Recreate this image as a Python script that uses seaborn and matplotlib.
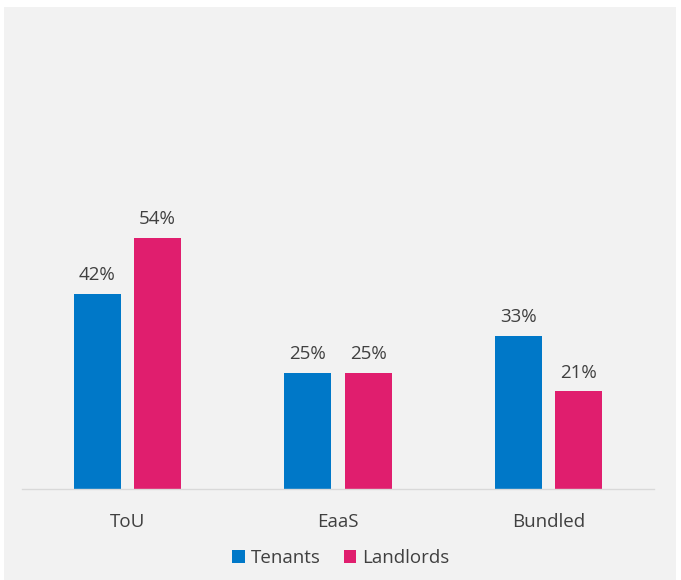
import matplotlib
matplotlib.use("Agg")
from matplotlib import pyplot as plt
from matplotlib.patches import Rectangle
import pandas as pd
import seaborn as sns

# data
categories = ["ToU", "EaaS", "Bundled"]
tenants = [42, 25, 33]
landlords = [54, 25, 21]
groups = ["Tenants", "Landlords"]

df = pd.DataFrame({
    "cat": categories * 2,
    "grp": [groups[0]] * 3 + [groups[1]] * 3,
    "val": tenants + landlords,
})

sns.set_theme(style="white")
plt.rcParams['font.family'] = ['Open Sans', 'DejaVu Sans']
txt = "#404040"
bg = "#F2F2F2"

fig = plt.figure(figsize=(6.81, 5.80), dpi=100)
fig.patch.set_facecolor("white")
# grey panel behind the chart
fig.patches.append(Rectangle((4 / 681, 0), 672 / 681, 573 / 580, transform=fig.transFigure,
                             facecolor=bg, edgecolor="none", zorder=-10))

ax = fig.add_axes([22 / 681, 91 / 580, 632 / 681, 279 / 580])
ax.set_facecolor("none")

sns.barplot(data=df, x="cat", y="val", hue="grp", order=categories, hue_order=groups,
            palette=["#0078C8", "#E01E6E"], width=0.57, gap=0.217, saturation=1,
            linewidth=0, ax=ax, legend=True)

for c in ax.containers:
    ax.bar_label(c, labels=[f"{int(v)}%" for v in c.datavalues], padding=7,
                 fontsize=13.5, color=txt, clip_on=False)

ax.set_xlim(-0.5, 2.5)
ax.set_ylim(0, 60)
ax.set(xlabel="", ylabel="")
ax.set_yticks([])
for s in ["top", "right", "left"]:
    ax.spines[s].set_visible(False)
ax.spines["bottom"].set_color("#D9D9D9")
ax.spines["bottom"].set_linewidth(1)
ax.tick_params(axis="x", length=0, pad=17, labelsize=13.5, labelcolor=txt)

leg = ax.legend(loc="center", bbox_to_anchor=(341 / 681, 22 / 580), bbox_transform=fig.transFigure,
                ncol=2, frameon=False, fontsize=13.5, handlelength=0.65, handleheight=0.65,
                handletextpad=0.35, columnspacing=1.2, borderaxespad=0)
for t in leg.get_texts():
    t.set_color(txt)

fig.savefig("out.png", dpi=100, facecolor=fig.get_facecolor())
